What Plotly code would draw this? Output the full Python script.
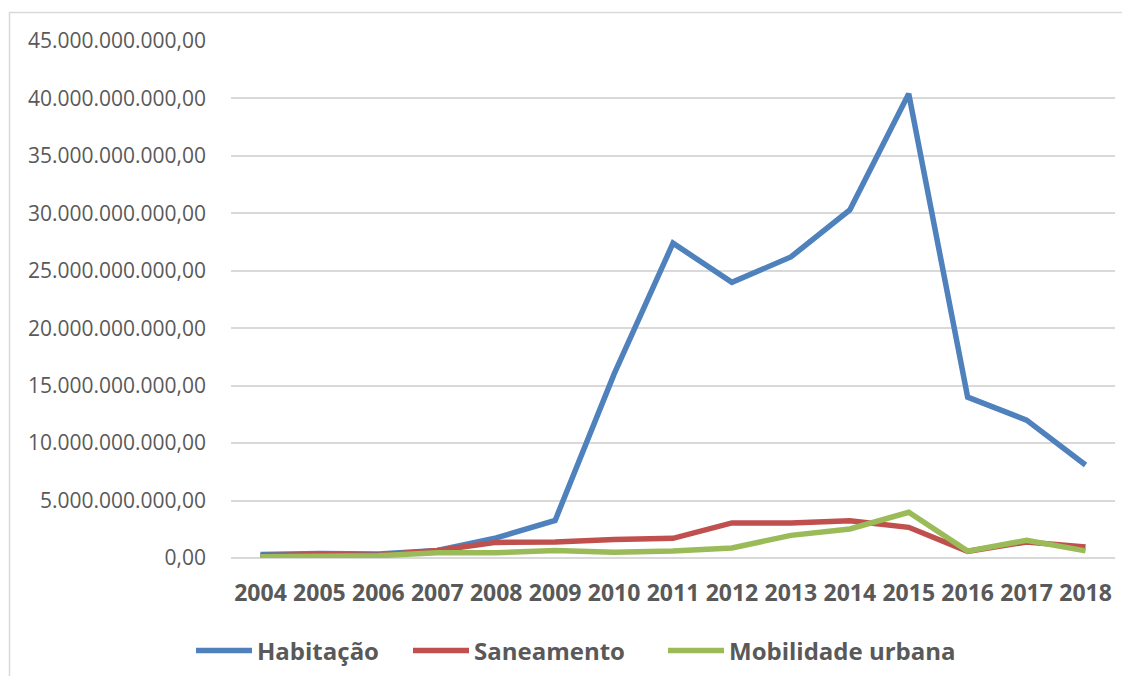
import plotly.graph_objects as go

years = ["2004", "2005", "2006", "2007", "2008", "2009", "2010", "2011",
         "2012", "2013", "2014", "2015", "2016", "2017", "2018"]

habitacao = [0.30e9, 0.40e9, 0.35e9, 0.65e9, 1.75e9, 3.27e9, 16.0e9, 27.4e9,
             24.0e9, 26.2e9, 30.3e9, 40.4e9, 14.0e9, 12.0e9, 8.1e9]
saneamento = [0.20e9, 0.30e9, 0.25e9, 0.66e9, 1.36e9, 1.40e9, 1.60e9, 1.71e9,
              3.05e9, 3.05e9, 3.25e9, 2.67e9, 0.58e9, 1.40e9, 0.95e9]
mobilidade = [0.10e9, 0.15e9, 0.20e9, 0.45e9, 0.45e9, 0.66e9, 0.49e9, 0.62e9,
              0.87e9, 1.97e9, 2.53e9, 3.98e9, 0.60e9, 1.54e9, 0.62e9]

series_names = ["Habitação", "Saneamento", "Mobilidade urbana"]
series_colors = ["#4F81BD", "#C0504D", "#9BBB59"]

y_tick_vals = [0, 5e9, 10e9, 15e9, 20e9, 25e9, 30e9, 35e9, 40e9, 45e9]
y_tick_text = ["0,00", "5.000.000.000,00", "10.000.000.000,00", "15.000.000.000,00",
               "20.000.000.000,00", "25.000.000.000,00", "30.000.000.000,00",
               "35.000.000.000,00", "40.000.000.000,00", "45.000.000.000,00"]

# page body has an 8px default margin; figure placed at (8, 8)
OFF = 8
W, H = 1114, 668
L = 231 - OFF
T = 41 - OFF
R = W - (1115 - OFF)
B = H - (558.5 - OFF)
pw, ph = W - L - R, H - T - B

def px_to_paper_x(px):
    return (px - OFF - L) / pw

def px_to_paper_y(py):
    return (H - B - (py - OFF)) / ph

legend_ids = ["legend", "legend2", "legend3"]
legend_x_px = [191, 408, 663]

fig = go.Figure()
for name, vals, col, lg in zip(series_names, [habitacao, saneamento, mobilidade],
                               series_colors, legend_ids):
    fig.add_trace(go.Scatter(
        x=years, y=vals, name=name, mode="lines", legend=lg,
        line=dict(color=col, width=5.5, shape="linear"),
    ))

fig.add_shape(type="rect", xref="paper", yref="paper",
              x0=px_to_paper_x(9.5), x1=px_to_paper_x(1150),
              y0=px_to_paper_y(720), y1=px_to_paper_y(12.5),
              line=dict(color="#D9D9D9", width=1.5), fillcolor="rgba(0,0,0,0)",
              layer="below")

legend_font = dict(size=24, color="#595959", family="Open Sans", weight="bold")
legends = {}
for lg, xp in zip(legend_ids, legend_x_px):
    legends[lg] = dict(
        orientation="h", x=px_to_paper_x(xp), xanchor="left",
        y=px_to_paper_y(651.5), yanchor="middle",
        font=legend_font, itemwidth=56, bgcolor="rgba(0,0,0,0)",
        borderwidth=0,
    )

fig.update_layout(
    width=W, height=H,
    margin=dict(l=L, r=R, t=T, b=B, pad=0, autoexpand=False),
    paper_bgcolor="white", plot_bgcolor="white",
    font=dict(family="Open Sans", color="#595959"),
    showlegend=True,
    xaxis=dict(
        type="category", range=[-0.5, 14.5], showgrid=False, zeroline=False,
        showline=False, ticks="", automargin=False,
        tickfont=dict(size=23, color="#595959", family="Open Sans", weight="bold"),
        ticklabelstandoff=19,
    ),
    yaxis=dict(
        range=[0, 45e9], tickvals=y_tick_vals, ticktext=y_tick_text,
        showgrid=True, gridcolor="#D9D9D9", gridwidth=1.5,
        zeroline=True, zerolinecolor="#D9D9D9", zerolinewidth=1.5,
        showline=False, ticks="", automargin=False,
        tickfont=dict(size=21, color="#595959", family="Open Sans"),
        ticklabelstandoff=24,
    ),
    **legends,
)

fig.write_html("out.html")
